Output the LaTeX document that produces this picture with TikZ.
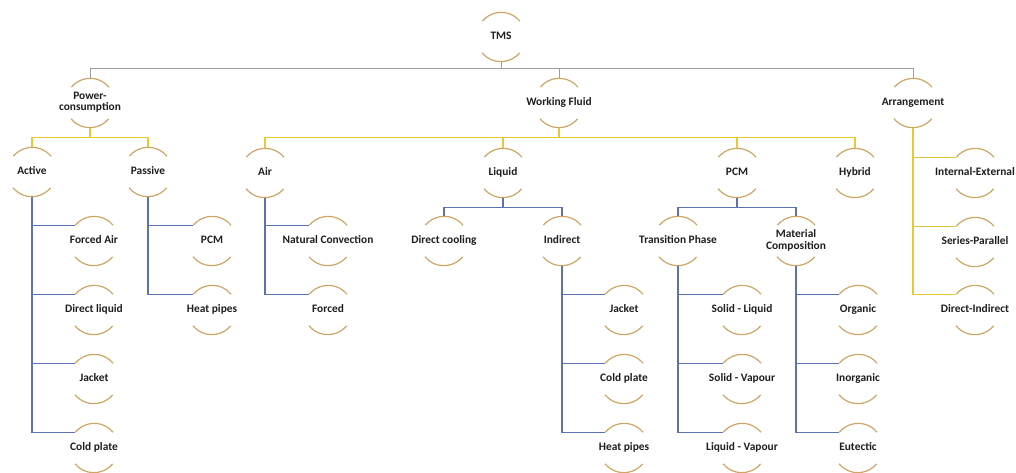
\documentclass[tikz,border=0pt]{standalone}
\usepackage{fontspec}
\setmainfont{Carlito}
\definecolor{arcc}{HTML}{CFA566}
\definecolor{grayl}{HTML}{9E9E9E}
\definecolor{yell}{HTML}{E6C935}
\definecolor{bluel}{HTML}{5B72B6}
\definecolor{txt}{HTML}{1E1E1E}
\newcommand{\nt}[1]{\makebox[0pt]{\renewcommand\arraystretch{0.85}\begin{tabular}{@{}c@{}}#1\end{tabular}}}
\begin{document}
\begin{tikzpicture}[x=1pt,y=-1pt,
  hn/.style={circle,minimum size=49pt,inner sep=0pt,font=\bfseries\fontsize{11.4}{13}\selectfont,text=txt},
  arcst/.style={draw=arcc,line width=1.2pt},
  gl/.style={draw=grayl,line width=1pt},
  yl/.style={draw=yell,line width=1.2pt},
  bl/.style={draw=bluel,line width=1.1pt}]
\useasboundingbox (0,0) rectangle (1016,473);
% nodes
\node[hn] (tms) at (501,37) {\nt{TMS}};
\node[hn] (pc) at (90,103) {\nt{Power-\\consumption}};
\node[hn] (wf) at (559,103) {\nt{Working Fluid}};
\node[hn] (arr) at (913,103) {\nt{Arrangement}};
\node[hn] (act) at (32,172) {\nt{Active}};
\node[hn] (pas) at (148,172) {\nt{Passive}};
\node[hn] (air) at (265,173) {\nt{Air}};
\node[hn] (liq) at (503,173) {\nt{Liquid}};
\node[hn] (pcm) at (737,173) {\nt{PCM}};
\node[hn] (hyb) at (855,173) {\nt{Hybrid}};
\node[hn] (ie) at (975,173) {\nt{Internal-External}};
\node[hn] (sp) at (975,242) {\nt{Series-Parallel}};
\node[hn] (di) at (975,310) {\nt{Direct-Indirect}};
\node[hn] (fa) at (94,241) {\nt{Forced Air}};
\node[hn] (dl) at (94,310) {\nt{Direct liquid}};
\node[hn] (jk) at (94,379) {\nt{Jacket}};
\node[hn] (cp) at (94,448) {\nt{Cold plate}};
\node[hn] (ppcm) at (212,241) {\nt{PCM}};
\node[hn] (php) at (212,310) {\nt{Heat pipes}};
\node[hn] (nc) at (328,241) {\nt{Natural Convection}};
\node[hn] (fo) at (328,310) {\nt{Forced}};
\node[hn] (dc) at (444,241) {\nt{Direct cooling}};
\node[hn] (ind) at (562,241) {\nt{Indirect}};
\node[hn] (ijk) at (624,310) {\nt{Jacket}};
\node[hn] (icp) at (624,379) {\nt{Cold plate}};
\node[hn] (ihp) at (624,448) {\nt{Heat pipes}};
\node[hn] (tp) at (678,241) {\nt{Transition Phase}};
\node[hn] (mc) at (796,241) {\nt{Material\\Composition}};
\node[hn] (sl) at (742,310) {\nt{Solid - Liquid}};
\node[hn] (sv) at (742,379) {\nt{Solid - Vapour}};
\node[hn] (lv) at (742,448) {\nt{Liquid - Vapour}};
\node[hn] (org) at (858,310) {\nt{Organic}};
\node[hn] (inorg) at (858,379) {\nt{Inorganic}};
\node[hn] (eut) at (858,448) {\nt{Eutectic}};
% arcs
\foreach \n in {tms,pc,wf,arr,act,pas,air,liq,pcm,hyb,ie,sp,di,fa,dl,jk,cp,ppcm,php,nc,fo,dc,ind,ijk,icp,ihp,tp,mc,sl,sv,lv,org,inorg,eut}{
  \draw[arcst] (\n.40) arc (40:140:24.5pt);
  \draw[arcst] (\n.220) arc (220:320:24.5pt);
}
% level 1 (gray)
\draw[gl] (tms.south) -- ++(0,7) -| (pc.north);
\draw[gl] (tms.south) -- ++(0,7) -| (wf.north);
\draw[gl] (tms.south) -- ++(0,7) -| (arr.north);
% power consumption (yellow)
\draw[yl] (pc.south) -- ++(0,10) -| (act.north);
\draw[yl] (pc.south) -- ++(0,10) -| (pas.north);
% working fluid (yellow)
\draw[yl] (wf.south) -- ++(0,10) -| (air.north);
\draw[yl] (wf.south) -- ++(0,10) -| (liq.north);
\draw[yl] (wf.south) -- ++(0,10) -| (pcm.north);
\draw[yl] (wf.south) -- ++(0,10) -| (hyb.north);
% arrangement (yellow)
\foreach \c in {ie,sp,di} \draw[yl] (arr.south) |- (\c.140);
% active / passive (blue)
\foreach \c in {fa,dl,jk,cp} \draw[bl] (act.south) |- (\c.140);
\foreach \c in {ppcm,php} \draw[bl] (pas.south) |- (\c.140);
% air
\foreach \c in {nc,fo} \draw[bl] (air.south) |- (\c.140);
% liquid
\draw[bl] (liq.south) -- ++(0,9.5) -| (dc.north);
\draw[bl] (liq.south) -- ++(0,9.5) -| (ind.north);
\foreach \c in {ijk,icp,ihp} \draw[bl] (ind.south) |- (\c.140);
% pcm
\draw[bl] (pcm.south) -- ++(0,9.5) -| (tp.north);
\draw[bl] (pcm.south) -- ++(0,9.5) -| (mc.north);
\foreach \c in {sl,sv,lv} \draw[bl] (tp.south) |- (\c.140);
\foreach \c in {org,inorg,eut} \draw[bl] (mc.south) |- (\c.140);
\end{tikzpicture}
\end{document}
